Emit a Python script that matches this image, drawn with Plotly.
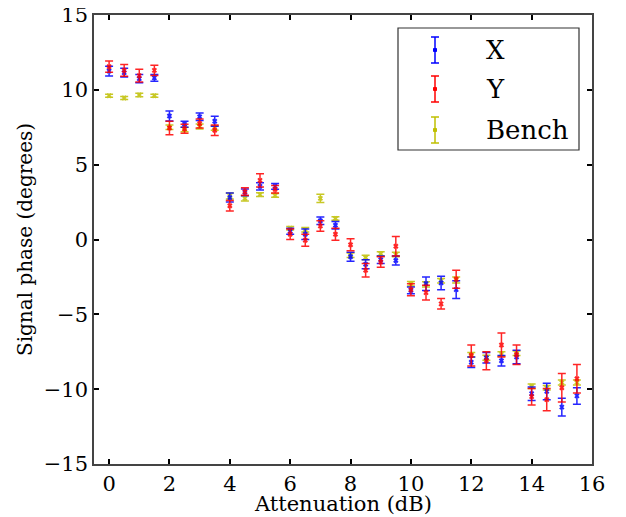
import plotly.graph_objects as go

attenuation = [0, 0.5, 1, 1.5, 2, 2.5, 3, 3.5, 4, 4.5, 5, 5.5, 6, 6.5, 7, 7.5,
               8, 8.5, 9, 9.5, 10, 10.5, 11, 11.5, 12, 12.5, 13, 13.5, 14, 14.5, 15, 15.5]

x_phase = [11.25, 11.15, 10.75, 10.8, 8.25, 7.7, 8.2, 7.9, 2.8, 3.15, 3.55, 3.55, 0.55, 0.35, 1.25, 0.95,
           -1.15, -1.65, -1.35, -1.4, -3.4, -2.95, -2.9, -3.35, -8.2, -7.9, -8.1, -7.85, -10.3, -10.15, -11.2, -10.45]
x_err = [0.32, 0.3, 0.28, 0.22, 0.33, 0.2, 0.25, 0.33, 0.3, 0.22, 0.25, 0.2, 0.2, 0.35, 0.25, 0.25,
         0.3, 0.3, 0.25, 0.3, 0.22, 0.45, 0.45, 0.6, 0.35, 0.35, 0.35, 0.45, 0.45, 0.55, 0.6, 0.55]

y_phase = [11.55, 11.3, 10.95, 11.3, 7.45, 7.4, 7.75, 7.3, 2.25, 3.2, 3.95, 3.35, 0.35, -0.05, 0.9, 0.35,
           -0.35, -2.05, -1.5, -0.45, -3.35, -3.55, -4.3, -2.65, -7.75, -8.1, -7.05, -7.7, -10.5, -10.7, -9.9, -9.3]
y_err = [0.38, 0.4, 0.43, 0.35, 0.45, 0.3, 0.3, 0.35, 0.35, 0.25, 0.45, 0.25, 0.35, 0.4, 0.35, 0.4,
         0.4, 0.45, 0.35, 0.65, 0.4, 0.5, 0.35, 0.6, 0.7, 0.6, 0.8, 0.65, 0.55, 0.75, 0.95, 0.95]

bench_phase = [9.6, 9.45, 9.65, 9.6, 7.5, 7.35, 7.55, 7.45, 2.9, 2.75, 3.0, 2.95, 0.75, 0.65, 2.75, 1.4,
               -1.05, -1.2, -0.95, -1.0, -2.95, -3.0, -2.75, -2.7, -7.7, -7.9, -7.65, -7.6, -9.8, -9.9, -9.55, -9.55]
bench_err = [0.1, 0.1, 0.12, 0.1, 0.15, 0.15, 0.17, 0.15, 0.2, 0.18, 0.12, 0.12, 0.12, 0.15, 0.27, 0.12,
             0.15, 0.15, 0.13, 0.15, 0.15, 0.17, 0.15, 0.2, 0.15, 0.17, 0.15, 0.15, 0.15, 0.15, 0.17, 0.17]

series_names = ["X", "Y", "Bench"]
series_colors = ["#0000ff", "#ff0000", "#bfbf00"]

FONT = "DejaVu Serif, serif"

fig = go.Figure()
for name, vals, errs, col in [(series_names[2], bench_phase, bench_err, series_colors[2]),
                              (series_names[0], x_phase, x_err, series_colors[0]),
                              (series_names[1], y_phase, y_err, series_colors[1])]:
    fig.add_trace(go.Scatter(
        x=attenuation, y=vals, mode="markers", name=name, showlegend=False,
        marker=dict(symbol="x-thin", size=4, color=col, line=dict(color=col, width=2)),
        error_y=dict(type="data", array=errs, visible=True, color=col, thickness=1.5, width=4),
        opacity=0.85,
    ))

# page offset of the plot div (body margin of 8px)
OFF = 8
W, H = 626 - OFF, 517 - OFF
# plot area in window pixels
L, R, T, B = 94, 592, 15, 464

def px(xp):
    return (xp - L) / (R - L)
def py(yp):
    return 1 - (yp - T) / (B - T)

fig.add_shape(type="rect", xref="paper", yref="paper", x0=px(398), x1=px(579), y0=py(150), y1=py(28),
              line=dict(color="#333333", width=1.2), fillcolor="white", layer="above")
rows = [50, 89, 130]
for name, col, yr in zip(series_names, series_colors, rows):
    gx = px(435)
    fig.add_shape(type="line", xref="paper", yref="paper", x0=gx, x1=gx, y0=py(yr + 13), y1=py(yr - 13),
                  line=dict(color=col, width=1.5), layer="above")
    for cy in (yr - 13, yr + 13):
        fig.add_shape(type="line", xref="paper", yref="paper", x0=px(431), x1=px(439), y0=py(cy), y1=py(cy),
                      line=dict(color=col, width=1.5), layer="above")
    fig.add_shape(type="rect", xref="paper", yref="paper", x0=px(433.5), x1=px(436.5), y0=py(yr + 1.5), y1=py(yr - 1.5),
                  line=dict(color=col, width=1), fillcolor=col, layer="above")
    fig.add_annotation(text=name, xref="paper", yref="paper", x=px(484), y=py(yr), xanchor="left", yanchor="middle",
                       showarrow=False, font=dict(family=FONT, size=26, color="black"))

# x-axis title
fig.add_annotation(text="Attenuation (dB)", xref="paper", yref="paper", x=0.5, y=py(504),
                   xanchor="center", yanchor="middle", showarrow=False,
                   font=dict(family=FONT, size=21, color="black"))

axis_common = dict(showgrid=False, zeroline=False, showline=True, linecolor="#444444", linewidth=1.5,
                   mirror="ticks", ticks="inside", ticklen=5, tickwidth=1.5, tickcolor="black",
                   ticklabeloverflow="allow",
                   tickfont=dict(family=FONT, size=21, color="black"))

fig.update_xaxes(range=[-0.5, 16], tick0=0, dtick=2, ticklabelstandoff=0, **axis_common)
fig.update_yaxes(range=[-15, 15], tick0=0, dtick=5,
                 title=dict(text="Signal phase (degrees)", font=dict(family=FONT, size=20, color="black"), standoff=6),
                 **axis_common)

fig.update_layout(width=W, height=H, plot_bgcolor="white", paper_bgcolor="white",
                  margin=dict(l=L - OFF, r=626 - R, t=T - OFF, b=517 - B, autoexpand=False),
                  font=dict(family=FONT))

fig.write_html("out.html")
